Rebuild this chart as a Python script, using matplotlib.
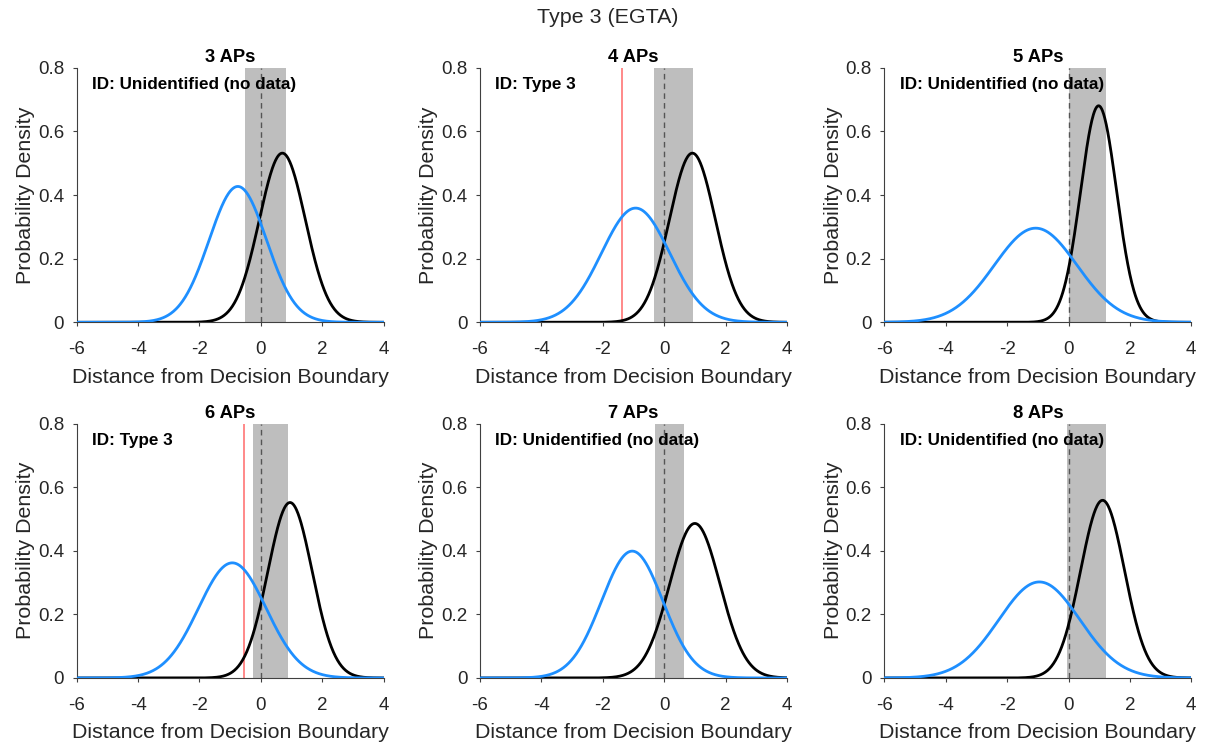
import numpy as np
import matplotlib
matplotlib.use("Agg")
import matplotlib.pyplot as plt

plt.rcParams['font.family'] = ['Liberation Sans', 'DejaVu Sans']

# Panel titles and identification labels
panel_titles = ["3 APs", "4 APs", "5 APs", "6 APs", "7 APs", "8 APs"]
id_labels = ["ID: Unidentified (no data)", "ID: Type 3", "ID: Unidentified (no data)",
             "ID: Type 3", "ID: Unidentified (no data)", "ID: Unidentified (no data)"]

# Fitted normal distributions: other classes (blue) and Type 3 (black)
other_mean = [-0.75, -0.93, -1.07, -0.93, -1.04, -0.95]
other_sd = [0.934, 1.111, 1.348, 1.102, 1.000, 1.321]
type3_mean = [0.70, 0.92, 0.98, 0.95, 1.00, 1.11]
type3_sd = [0.750, 0.750, 0.586, 0.723, 0.821, 0.714]

# Shaded interval (lower, upper) for each panel
band_low = [-0.52, -0.32, 0.0, -0.26, -0.30, -0.06]
band_high = [0.82, 0.93, 1.23, 0.90, 0.635, 1.23]

# Observed cell distance (None when no data)
observed = [None, -1.36, None, -0.54, None, None]

x_ticks = [-6, -4, -2, 0, 2, 4]
y_ticks = [0, 0.2, 0.4, 0.6, 0.8]
y_tick_labels = ["0", "0.2", "0.4", "0.6", "0.8"]


def normal_pdf(x, mu, sd):
    return np.exp(-0.5 * ((x - mu) / sd) ** 2) / (sd * np.sqrt(2 * np.pi))


fig = plt.figure(figsize=(12.06, 7.46), dpi=100)

col_left = [0.0636, 0.398, 0.7333]
col_width = 0.2545
row_bottom = [0.568, 0.0912]
row_height = 0.341

axis_color = "#404040"
text_color = "#262626"
xs = np.linspace(-6, 4, 600)

for i in range(6):
    r, c = divmod(i, 3)
    ax = fig.add_axes([col_left[c], row_bottom[r], col_width, row_height])

    ax.axvspan(band_low[i], band_high[i], color="#bebebe", lw=0, zorder=1)
    ax.axvline(0, color="#555555", ls=(0, (4, 3)), lw=1.0, zorder=2)
    if observed[i] is not None:
        ax.axvline(observed[i], color="#ff4f4f", lw=1.1, alpha=0.85, zorder=2.5)

    ax.plot(xs, normal_pdf(xs, type3_mean[i], type3_sd[i]), color="black", lw=2.0, zorder=3)
    ax.plot(xs, normal_pdf(xs, other_mean[i], other_sd[i]), color="#1e8fff", lw=2.0, zorder=4)

    ax.set_xlim(-6, 4)
    ax.set_ylim(0, 0.8)
    ax.set_xticks(x_ticks)
    ax.set_xticklabels([str(t) for t in x_ticks])
    ax.set_yticks(y_ticks)
    ax.set_yticklabels(y_tick_labels)

    for side in ("top", "right"):
        ax.spines[side].set_visible(False)
    for side in ("left", "bottom"):
        ax.spines[side].set_color(axis_color)
        ax.spines[side].set_linewidth(0.8)
    ax.tick_params(direction="out", length=3, width=0.8, colors=axis_color,
                   labelcolor=text_color, labelsize=13.5)
    ax.tick_params(axis="x", pad=10.5)
    ax.tick_params(axis="y", pad=6)

    ax.set_xlabel("Distance from Decision Boundary", fontsize=15.4, color=text_color, labelpad=7)
    ax.set_ylabel("Probability Density", fontsize=15.4, color=text_color, labelpad=2)
    ax.set_title(panel_titles[i], fontsize=13.2, fontweight="bold", pad=4)
    ax.text(0.05, 0.935, id_labels[i], transform=ax.transAxes, fontsize=12.3,
            fontweight="bold", va="center", ha="left", zorder=5)

fig.text(0.504, 0.977, "Type 3 (EGTA)", ha="center", va="center", fontsize=15.4, color=text_color)

fig.savefig("out.png", dpi=100)
